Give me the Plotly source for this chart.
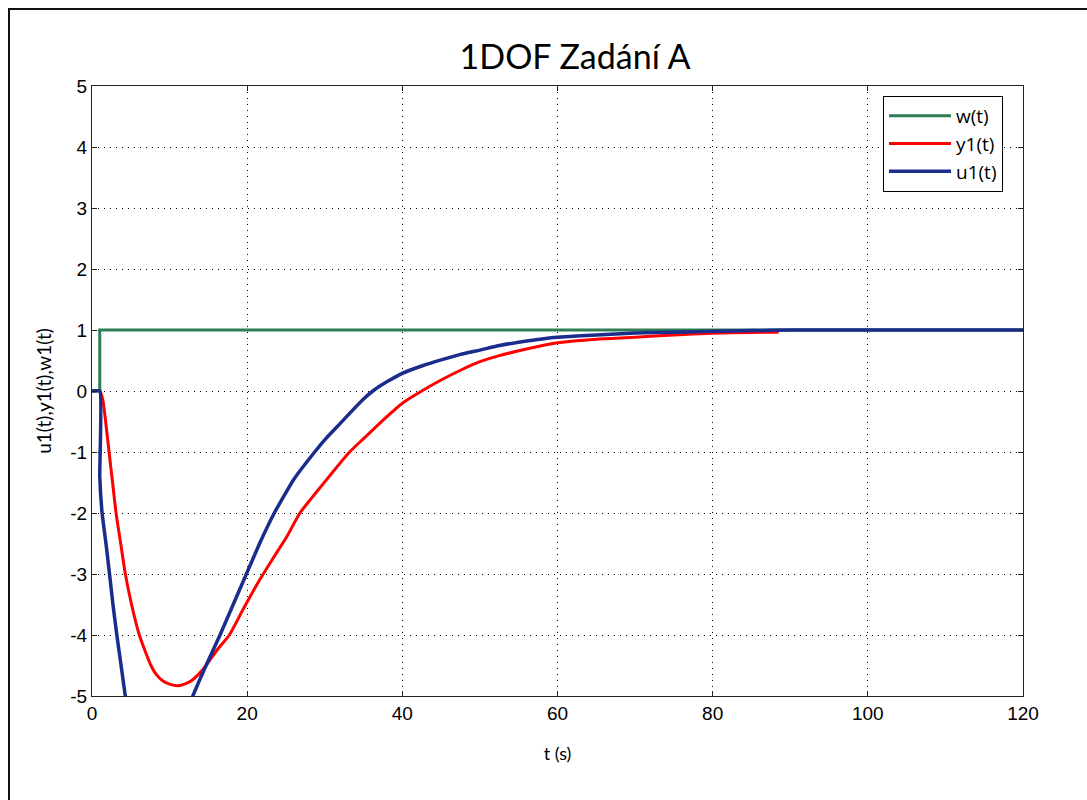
import plotly.graph_objects as go

# ---- data ----
t_w = [0, 1, 1, 120]
w = [0, 0, 1, 1]

t_y = [0, 1, 1.4, 1.8, 2.2, 2.65, 3.1, 3.7, 4.3, 5.1, 6.1, 7.6, 8.3, 9.1, 10.1, 11.1, 12.0,
       12.8, 13.7, 14.7, 16.1, 17.7, 19.6, 21.6, 23.3, 25.1, 26.8, 28.4, 30, 31.6, 33.2,
       35, 37.5, 40, 42.5, 45, 47.5, 50, 52.5, 55, 57.5, 60, 65, 70, 75, 80, 85, 88.5]
y1 = [0, 0, -0.15, -0.55, -1.0, -1.5, -2.0, -2.5, -3.0, -3.5, -4.0, -4.5, -4.65, -4.75, -4.81,
      -4.83, -4.8, -4.75, -4.65, -4.5, -4.25, -4.0, -3.55, -3.1, -2.75, -2.39, -2.0, -1.74,
      -1.49, -1.24, -1.0, -0.78, -0.48, -0.2, 0.0, 0.18, 0.34, 0.48, 0.58, 0.66, 0.73, 0.79,
      0.85, 0.88, 0.92, 0.945, 0.96, 0.965]

t_u = [0, 1, 1.0, 1.3, 1.8, 2.26, 2.7, 3.2, 3.75, 4.3, 5.2, 6, 7, 8, 9, 10, 11, 12, 13,
       14.7, 16.5, 18.2, 19.9, 21.6, 23.5, 26, 28.7, 30, 32, 34, 35, 36.2, 38, 40, 42.5,
       45, 47.5, 50, 52.5, 55, 57.5, 60, 65, 70, 75, 80, 85, 90, 100, 110, 120]
u1 = [0, 0, -1.4, -2.0, -2.5, -3.0, -3.5, -4.0, -4.5, -5.0, -5.6, -6.0, -6.3, -6.4, -6.3,
      -6.05, -5.7, -5.35, -5.0, -4.5, -4.0, -3.5, -3.0, -2.5, -2.0, -1.45, -1.0, -0.8, -0.53,
      -0.26, -0.13, 0.0, 0.15, 0.29, 0.41, 0.51, 0.6, 0.67, 0.745, 0.8, 0.845, 0.88, 0.92,
      0.95, 0.965, 0.98, 0.99, 1.0, 1.0, 1.0, 1.0]

x_ticks = [0, 20, 40, 60, 80, 100, 120]
y_ticks = [-5, -4, -3, -2, -1, 0, 1, 2, 3, 4, 5]

fig = go.Figure()
fig.add_trace(go.Scatter(x=t_w, y=w, mode="lines", name="w(t)",
                         line=dict(color="#2e7d55", width=3)))
fig.add_trace(go.Scatter(x=t_y, y=y1, mode="lines", name="y1(t)",
                         line=dict(color="#ff0000", width=3, shape="spline", smoothing=0.6)))
fig.add_trace(go.Scatter(x=t_u, y=u1, mode="lines", name="u1(t)",
                         line=dict(color="#1a2d8c", width=3.5, shape="spline", smoothing=0.4)))

L, R, T, B = 92, 64, 86, 104
W, H = 1087, 800
pw, ph = W - L - R, H - T - B

def px2paper_x(px):
    return (px - L) / pw

def px2paper_y(py):
    return (H - B - py) / ph

axis_common = dict(
    showline=True, linecolor="#222", linewidth=1, mirror="ticks",
    ticks="inside", ticklen=5, tickcolor="#222",
    showgrid=True, gridcolor="#000", gridwidth=1, griddash="1px,5px",
    zeroline=False,
    tickfont=dict(family="Liberation Sans, Arial", size=19, color="#000"),
)

fig.update_xaxes(range=[0, 120], tickvals=x_ticks, ticktext=[str(v) for v in x_ticks],
                 title=dict(text="t (s)", font=dict(family="Lato", size=18, color="#000"),
                            standoff=24),
                 **axis_common)
fig.update_yaxes(range=[-5, 5], tickvals=y_ticks, ticktext=[str(v) for v in y_ticks],
                 title=dict(text="u1(t),y1(t),w1(t)", font=dict(family="Lato", size=19, color="#000"),
                            standoff=13),
                 **axis_common)

fig.update_layout(
    width=W, height=H,
    margin=dict(l=L, r=R, t=T, b=B, autoexpand=False),
    paper_bgcolor="white", plot_bgcolor="white",
    title=dict(text="1DOF Zadání A", x=575 / W, xanchor="center",
               y=1 - 57 / H, yanchor="middle",
               font=dict(family="Lato", size=34, color="#000")),
    legend=dict(x=px2paper_x(883), y=px2paper_y(96), xanchor="left", yanchor="top",
                bgcolor="white", bordercolor="#000", borderwidth=1,
                font=dict(family="Open Sans", size=19, color="#000"),
                itemwidth=62, tracegroupgap=0),
    shapes=[
        dict(type="line", xref="paper", yref="paper",
             x0=px2paper_x(9), x1=px2paper_x(9), y0=px2paper_y(8), y1=px2paper_y(805),
             line=dict(color="#111", width=2)),
        dict(type="line", xref="paper", yref="paper",
             x0=px2paper_x(8), x1=px2paper_x(1100), y0=px2paper_y(9), y1=px2paper_y(9),
             line=dict(color="#111", width=2)),
    ],
)

fig.write_html("out.html")
